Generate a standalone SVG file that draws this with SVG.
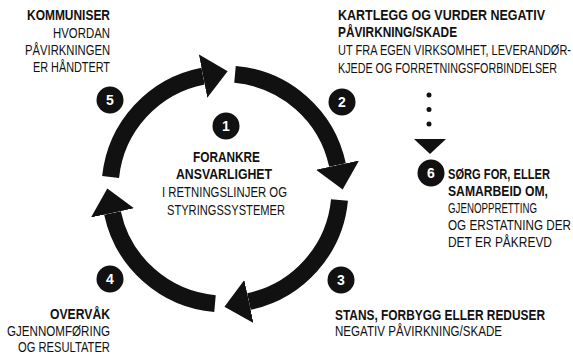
<svg xmlns="http://www.w3.org/2000/svg" width="573" height="358" viewBox="0 0 573 358">
<style>
  text { font-family: "Liberation Sans", Arial, sans-serif; font-size: 14px; fill: #111; }
  .b { font-weight: bold; }
  .num { font-weight: bold; fill: #fff; font-size: 14px; text-anchor: middle; }
  .badge { fill: #111; }
  .ring { fill: none; stroke: #111; stroke-width: 17; stroke-linecap: butt; }
</style>
<defs>
  <marker id="ah" markerUnits="userSpaceOnUse" markerWidth="30" markerHeight="50" viewBox="0 -25 30 50" refX="0" refY="0" orient="auto">
    <path d="M0,-22 L25,0 L0,22 Z" fill="#111"/>
  </marker>
</defs>
<rect width="573" height="358" fill="#fff"/>

<g id="connectors">
  <path class="ring" d="M110.6,177.0 A115,115 0 0 1 203.1,76.1" marker-end="url(#ah)"/>
  <path class="ring" d="M235.0,74.4 A115,115 0 0 1 337.5,165.1" marker-end="url(#ah)"/>
  <path class="ring" d="M339.5,200.0 A115,115 0 0 1 248.9,301.5" marker-end="url(#ah)"/>
  <path class="ring" d="M215.0,303.6 A115,115 0 0 1 112.5,212.9" marker-end="url(#ah)"/>
  <line x1="429" y1="95" x2="429" y2="125" stroke="#111" stroke-width="5" stroke-linecap="round" stroke-dasharray="0 14.5"/>
  <polygon points="414,139 446,139 430,154" fill="#111"/>
</g>

<g id="step1">
  <circle class="badge" cx="226" cy="126" r="13.5"/>
  <text class="num" x="226" y="131">1</text>
  <text class="b" transform="translate(193,162) scale(0.78,1)" textLength="85.9" lengthAdjust="spacingAndGlyphs">FORANKRE</text>
  <text class="b" transform="translate(176,179) scale(0.78,1)" textLength="123.1" lengthAdjust="spacingAndGlyphs">ANSVARLIGHET</text>
  <text transform="translate(162,197) scale(0.78,1)" textLength="160.3" lengthAdjust="spacingAndGlyphs">I RETNINGSLINJER OG</text>
  <text transform="translate(167,215) scale(0.78,1)" textLength="151.3" lengthAdjust="spacingAndGlyphs">STYRINGSSYSTEMER</text>
</g>

<g id="step2">
  <circle class="badge" cx="342" cy="102" r="13.5"/>
  <text class="num" x="342" y="107">2</text>
  <text class="b" transform="translate(338,20) scale(0.78,1)" textLength="265.4" lengthAdjust="spacingAndGlyphs">KARTLEGG OG VURDER NEGATIV</text>
  <text class="b" transform="translate(338,37) scale(0.78,1)" textLength="152.6" lengthAdjust="spacingAndGlyphs">PÅVIRKNING/SKADE</text>
  <text transform="translate(338,55) scale(0.78,1)" textLength="298.7" lengthAdjust="spacingAndGlyphs">UT FRA EGEN VIRKSOMHET, LEVERANDØR-</text>
  <text transform="translate(338,73) scale(0.78,1)" textLength="280.8" lengthAdjust="spacingAndGlyphs">KJEDE OG FORRETNINGSFORBINDELSER</text>
</g>

<g id="step3">
  <circle class="badge" cx="341" cy="280" r="13.5"/>
  <text class="num" x="341" y="285">3</text>
  <text class="b" transform="translate(335,320) scale(0.78,1)" textLength="269.2" lengthAdjust="spacingAndGlyphs">STANS, FORBYGG ELLER REDUSER</text>
  <text transform="translate(335,336) scale(0.78,1)" textLength="214.1" lengthAdjust="spacingAndGlyphs">NEGATIV PÅVIRKNING/SKADE</text>
</g>

<g id="step4">
  <circle class="badge" cx="110" cy="279" r="13.5"/>
  <text class="num" x="110" y="284">4</text>
  <text class="b" transform="translate(50,319) scale(0.78,1)" textLength="76.9" lengthAdjust="spacingAndGlyphs">OVERVÅK</text>
  <text transform="translate(7,336) scale(0.78,1)" textLength="132.1" lengthAdjust="spacingAndGlyphs">GJENNOMFØRING</text>
  <text transform="translate(18,352) scale(0.78,1)" textLength="117.9" lengthAdjust="spacingAndGlyphs">OG RESULTATER</text>
</g>

<g id="step5">
  <circle class="badge" cx="110" cy="100" r="13.5"/>
  <text class="num" x="110" y="105">5</text>
  <text class="b" transform="translate(27,20) scale(0.78,1)" textLength="106.4" lengthAdjust="spacingAndGlyphs">KOMMUNISER</text>
  <text transform="translate(53,38) scale(0.78,1)" textLength="73.1" lengthAdjust="spacingAndGlyphs">HVORDAN</text>
  <text transform="translate(25,55) scale(0.78,1)" textLength="109" lengthAdjust="spacingAndGlyphs">PÅVIRKNINGEN</text>
  <text transform="translate(33,72) scale(0.78,1)" textLength="98.7" lengthAdjust="spacingAndGlyphs">ER HÅNDTERT</text>
</g>

<g id="step6">
  <circle class="badge" cx="431" cy="173" r="13.5"/>
  <text class="num" x="431" y="178">6</text>
  <text class="b" transform="translate(448,179) scale(0.78,1)" textLength="130.8" lengthAdjust="spacingAndGlyphs">SØRG FOR, ELLER</text>
  <text class="b" transform="translate(448,196) scale(0.78,1)" textLength="128.2" lengthAdjust="spacingAndGlyphs">SAMARBEID OM,</text>
  <text transform="translate(448,213) scale(0.78,1)" textLength="114.1" lengthAdjust="spacingAndGlyphs">GJENOPPRETTING</text>
  <text transform="translate(448,230) scale(0.78,1)" textLength="157.7" lengthAdjust="spacingAndGlyphs">OG ERSTATNING DER</text>
  <text transform="translate(448,247) scale(0.78,1)" textLength="133.3" lengthAdjust="spacingAndGlyphs">DET ER PÅKREVD</text>
</g>
</svg>
